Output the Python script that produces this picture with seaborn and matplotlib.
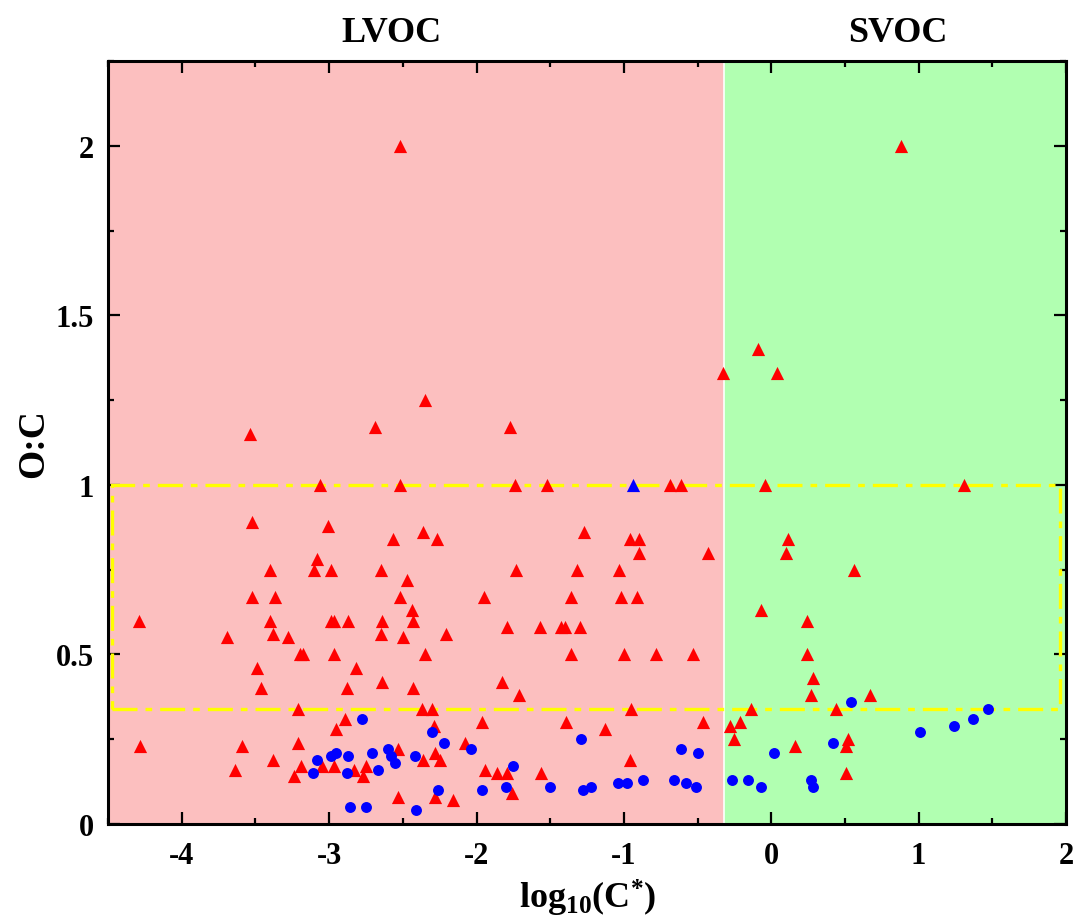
import numpy as np
import pandas as pd
import matplotlib
matplotlib.use("Agg")
import matplotlib.pyplot as plt
from matplotlib.patches import Rectangle
from matplotlib.ticker import MultipleLocator, FuncFormatter
import seaborn as sns

# ---------------- data ----------------
tri_x = [-3.40, -3.10, -2.99, -2.65, -2.47, -3.52, -3.37, -2.52, -4.29, -3.40,
         -2.99, -2.97, -2.87, -2.64, -2.44, -2.43, -3.69, -3.38, -3.28, -2.65,
         -2.50, -3.20, -3.18, -2.97, -3.49, -2.82, -3.46, -2.88, -2.64, -2.43,
         -3.21, -2.89, -2.95, -4.28, -3.59, -3.21, -2.53, -3.38, -3.64, -3.19,
         -3.05, -2.97, -2.83, -2.75, -3.24, -2.77, -2.53,
         -1.73, -1.32, -1.03, -1.95, -1.36, -1.02, -0.91, -2.21, -1.79,
         -1.57, -1.43, -1.40, -1.30, -2.35, -1.36, -1.00, -0.78, -0.53, -1.83,
         -1.71, -2.37, -2.30, -0.95, -1.96, -1.39, -1.13, -0.46, -2.29, -2.08,
         -2.28, -2.36, -2.25, -1.94, -1.86, -1.79, -1.56, -0.96, -1.76, -2.28,
         -2.16,
         0.56, -0.07, 0.24, 0.24, 0.28, 0.27, 0.67, -0.14, 0.44, -0.28,
         -0.21, -0.25, 0.16, 0.52, 0.51, 0.51,
         -3.54, -2.69, -3.06, -2.52, -3.52, -3.01, -2.57, -3.08,
         -0.33, -2.35, -1.77, -1.74, -1.52, -0.69, -0.61, -2.36, -2.27, -1.27,
         -0.96, -0.90, -0.90, -0.43,
         -0.09, 0.04, -0.04, 1.31, 0.11, 0.10,
         -2.52, 0.88]
tri_y = [0.75, 0.75, 0.75, 0.75, 0.72, 0.67, 0.67, 0.67, 0.60, 0.60,
         0.60, 0.60, 0.60, 0.60, 0.63, 0.60, 0.55, 0.56, 0.55, 0.56,
         0.55, 0.50, 0.50, 0.50, 0.46, 0.46, 0.40, 0.40, 0.42, 0.40,
         0.34, 0.31, 0.28, 0.23, 0.23, 0.24, 0.22, 0.19, 0.16, 0.17,
         0.17, 0.17, 0.16, 0.17, 0.14, 0.14, 0.08,
         0.75, 0.75, 0.75, 0.67, 0.67, 0.67, 0.67, 0.56, 0.58,
         0.58, 0.58, 0.58, 0.58, 0.50, 0.50, 0.50, 0.50, 0.50, 0.42,
         0.38, 0.34, 0.34, 0.34, 0.30, 0.30, 0.28, 0.30, 0.29, 0.24,
         0.21, 0.19, 0.19, 0.16, 0.15, 0.15, 0.15, 0.19, 0.09, 0.08,
         0.07,
         0.75, 0.63, 0.60, 0.50, 0.43, 0.38, 0.38, 0.34, 0.34, 0.29,
         0.30, 0.25, 0.23, 0.25, 0.23, 0.15,
         1.15, 1.17, 1.00, 1.00, 0.89, 0.88, 0.84, 0.78,
         1.33, 1.25, 1.17, 1.00, 1.00, 1.00, 1.00, 0.86, 0.84, 0.86,
         0.84, 0.84, 0.80, 0.80,
         1.40, 1.33, 1.00, 1.00, 0.84, 0.80,
         2.00, 2.00]

circ_x = [-2.78, -3.08, -2.99, -2.95, -2.87, -2.71, -2.60, -2.58, -2.55, -2.42,
          -3.11, -2.88, -2.67, -2.86, -2.75, -2.41,
          -2.30, -2.22, -2.04, -1.29, -0.61, -0.50, -1.75, -2.26, -1.96, -1.80,
          -1.50, -1.28, -1.22, -1.04, -0.98, -0.87, -0.66, -0.58, -0.51,
          0.54, 1.47, 1.37, 1.24, 1.01, 0.42, 0.02, -0.27, -0.16, -0.07,
          0.27, 0.28]
circ_y = [0.31, 0.19, 0.20, 0.21, 0.20, 0.21, 0.22, 0.20, 0.18, 0.20,
          0.15, 0.15, 0.16, 0.05, 0.05, 0.04,
          0.27, 0.24, 0.22, 0.25, 0.22, 0.21, 0.17, 0.10, 0.10, 0.11,
          0.11, 0.10, 0.11, 0.12, 0.12, 0.13, 0.13, 0.12, 0.11,
          0.36, 0.34, 0.31, 0.29, 0.27, 0.24, 0.21, 0.13, 0.13, 0.11,
          0.13, 0.11]

blue_tri_x = [-0.94]
blue_tri_y = [1.00]

regions = ["LVOC", "SVOC"]
region_bounds = [-4.5, -0.32, 2.0]
region_colors = ["#FCBFBF", "#B1FFB1"]
box_x = [-4.47, 1.96]
box_y = [0.34, 1.00]

# ---------------- style ----------------
sns.set_theme(style="ticks")
plt.rcParams["font.family"] = ["Liberation Serif", "DejaVu Serif"]
plt.rcParams["font.weight"] = "bold"
plt.rcParams["axes.unicode_minus"] = False
plt.rcParams["text.color"] = "black"
plt.rcParams["axes.labelcolor"] = "black"
plt.rcParams["xtick.color"] = "black"
plt.rcParams["ytick.color"] = "black"
plt.rcParams["xtick.labelcolor"] = "black"
plt.rcParams["ytick.labelcolor"] = "black"
plt.rcParams["mathtext.fontset"] = "custom"
plt.rcParams["mathtext.rm"] = "Liberation Serif:bold"
plt.rcParams["mathtext.bf"] = "Liberation Serif:bold"
plt.rcParams["mathtext.it"] = "Liberation Serif:bold"

fig = plt.figure(figsize=(10.75, 9.2), dpi=100)
ax = fig.add_axes([0.1005, 0.1033, 0.8912, 0.8293])

# background regions
for i in range(2):
    ax.axvspan(region_bounds[i], region_bounds[i + 1], color=region_colors[i],
               lw=0, zorder=0)
ax.axvline(region_bounds[1], color="white", lw=1.2, zorder=0.5)

# yellow dash-dot box
rect = Rectangle((box_x[0], box_y[0]), box_x[1] - box_x[0], box_y[1] - box_y[0],
                 fill=False, edgecolor="#FFFF00", lw=2.4,
                 linestyle=(0, (7.5, 2.4, 2.0, 2.4)), zorder=1)
ax.add_patch(rect)

df_tri = pd.DataFrame({"x": tri_x, "y": tri_y})
df_circ = pd.DataFrame({"x": circ_x, "y": circ_y})
df_bt = pd.DataFrame({"x": blue_tri_x, "y": blue_tri_y})

sns.scatterplot(data=df_tri, x="x", y="y", marker="^", color="#FF0000", s=90,
                linewidth=0, ax=ax, zorder=3)
sns.scatterplot(data=df_bt, x="x", y="y", marker="^", color="#0000FF", s=90,
                linewidth=0, ax=ax, zorder=3)
sns.scatterplot(data=df_circ, x="x", y="y", marker="o", color="#0000FF", s=62,
                linewidth=0, ax=ax, zorder=4)

ax.set_xlim(-4.5, 2.0)
ax.set_ylim(0, 2.25)

ax.xaxis.set_major_locator(MultipleLocator(1))
ax.xaxis.set_minor_locator(MultipleLocator(0.5))
ax.yaxis.set_major_locator(MultipleLocator(0.5))
ax.yaxis.set_minor_locator(MultipleLocator(0.25))
fmt = FuncFormatter(lambda v, p: f"{v:g}")
ax.xaxis.set_major_formatter(fmt)
ax.yaxis.set_major_formatter(fmt)

ax.tick_params(which="both", direction="in", top=True, right=True,
               width=1.6, color="black", labelcolor="black")
ax.tick_params(which="major", length=8.5)
ax.tick_params(which="minor", length=4)
ax.tick_params(axis="x", which="major", labelsize=22, pad=12)
ax.tick_params(axis="y", which="major", labelsize=22, pad=10)
for lab in ax.get_xticklabels() + ax.get_yticklabels():
    lab.set_fontweight("bold")

for sp in ax.spines.values():
    sp.set_linewidth(2.2)
    sp.set_color("black")
    sp.set_visible(True)

ax.set_xlabel(r"log$_{\mathregular{10}}$(C$^{\mathregular{*}}$)", fontsize=26,
              fontweight="bold", labelpad=5, color="black")
ax.set_ylabel("O:C", fontsize=27, fontweight="bold", labelpad=3, color="black")

label_x = [-2.58, 0.86]
for name, lx in zip(regions, label_x):
    ax.text(lx, 1.026, name, transform=ax.get_xaxis_transform(), ha="center",
            va="baseline", fontsize=26, fontweight="bold", color="black")

fig.savefig("out.png", dpi=100)
